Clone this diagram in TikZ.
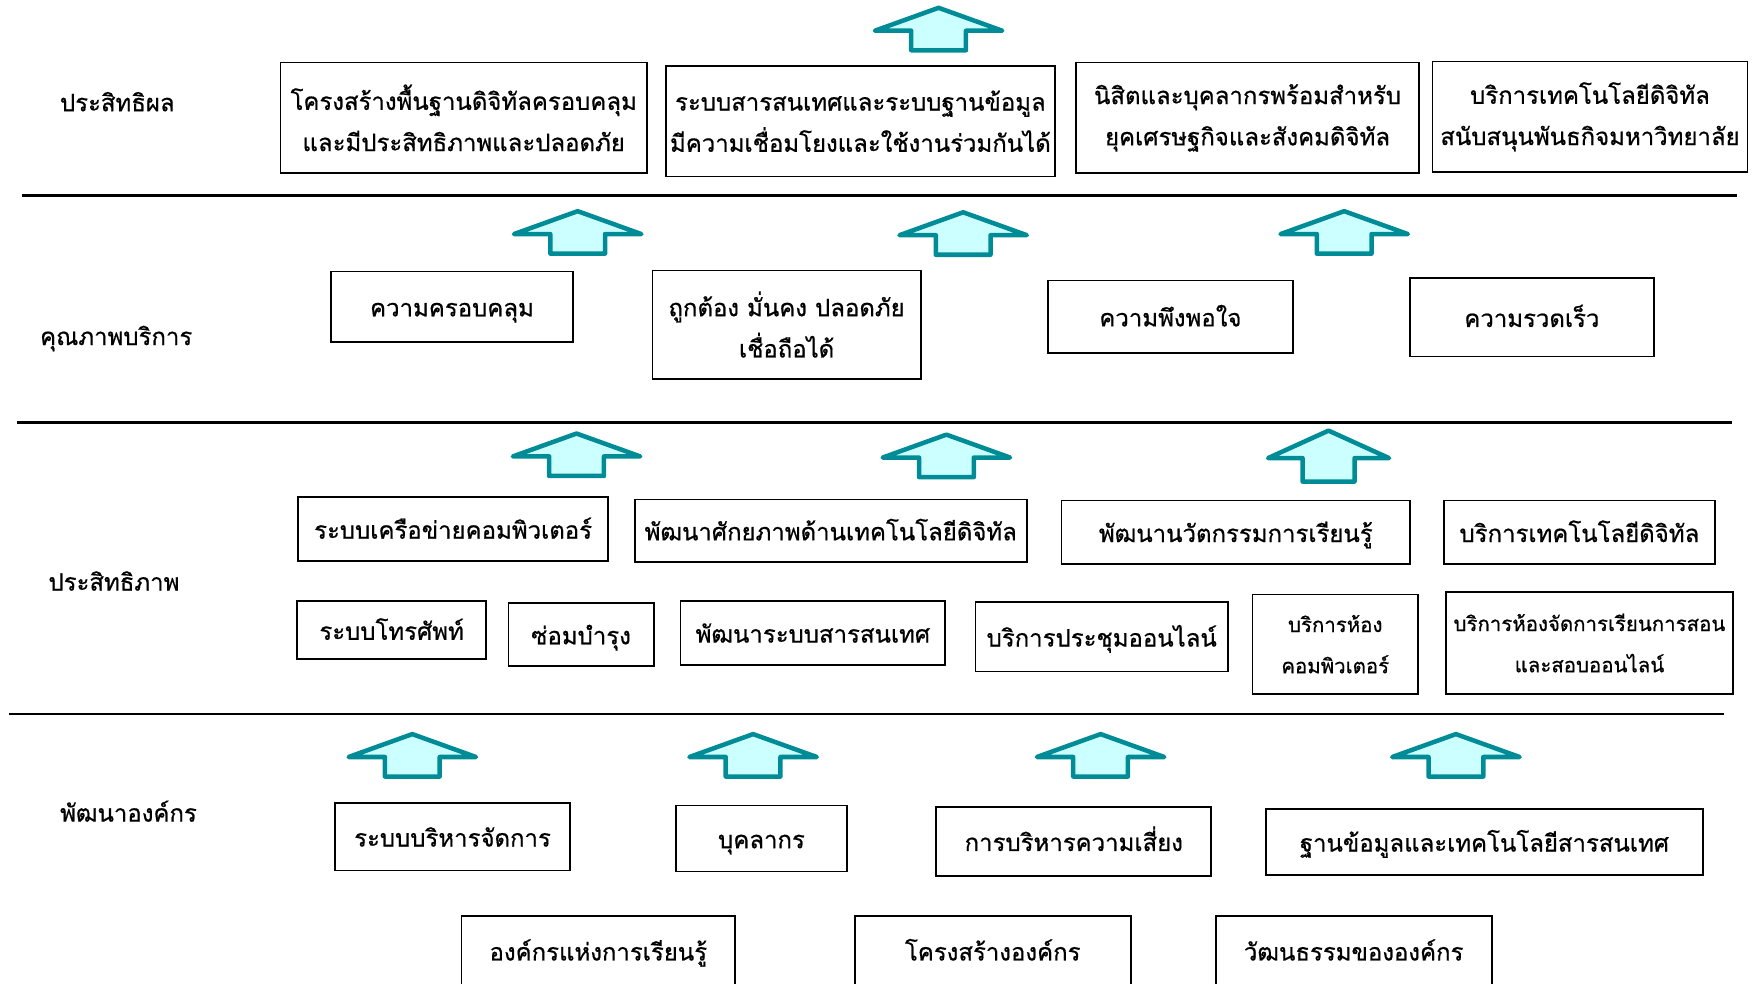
\documentclass[tikz,border=0pt]{standalone}
\usepackage{fontspec}
\setmainfont[Script=Thai, FakeBold=0.7]{Loma}
\usetikzlibrary{positioning}

\definecolor{arrowedge}{RGB}{0,140,150}
\definecolor{arrowfill}{RGB}{204,255,255}

\begin{document}
\begin{tikzpicture}[x=0.02cm, y=-0.02cm,
    twobox/.style={draw, line width=0.9pt, align=center, inner sep=1pt,
      font=\fontsize{12.2}{21}\selectfont},
    box/.style={twobox, text height=11pt, text depth=1.2pt},
    smallbox/.style={twobox, font=\fontsize{10.4}{21}\selectfont},
    level/.style={font=\fontsize{12.2}{21}\selectfont},
    rule/.style={line width=1.4pt},
    uparrow/.pic={%
      \draw[line width=2.3pt, line join=round, draw=arrowedge, fill=arrowfill]
        (0,2) -- (57,22.5) -- (24.5,22.5) -- (24.5,40) -- (-24.5,40) -- (-24.5,22.5) -- (-57,22.5) -- cycle;
    }
  ]
    \path[use as bounding box] (0,0) rectangle (1568,884);
    \clip (-10,-10) rectangle (1578,880.5);

    % levels
    \node[level] (effect)  at (105,91)  {ประสิทธิผล};
    \node[level] (quality) at (104,303) {คุณภาพบริการ};
    \node[level] (effic)   at (102,520) {ประสิทธิภาพ};
    \node[level] (org)     at (115,726) {พัฒนาองค์กร};

    \draw[rule] (20,175) -- (1555,175);
    \draw[rule] (15,378) -- (1550,378);
    \draw[rule] (8,639)  -- (1543,639);

    % arrows
    \foreach \x/\y in {840/5, 517/187, 862/188, 1203/187, 516/386, 847/387,
                       369/655, 674/655, 985/655, 1303/655}
      \pic at (\x,\y) {uparrow};
    \pic[xscale=0.95, yscale=1.2] at (1189,383) {uparrow};

    % effectiveness
    \node[twobox, minimum width=6.56cm, minimum height=1.98cm] (infra) at (415,105.5)
      {โครงสร้างพื้นฐานดิจิทัลครอบคลุม\\และมีประสิทธิภาพและปลอดภัย};
    \node[twobox, minimum width=6.96cm, minimum height=1.98cm] (infosys) at (770,108.5)
      {ระบบสารสนเทศและระบบฐานข้อมูล\\มีความเชื่อมโยงและใช้งานร่วมกันได้};
    \node[twobox, minimum width=6.14cm, minimum height=1.98cm] (people) at (1116.5,105.5)
      {นิสิตและบุคลากรพร้อมสำหรับ\\ยุคเศรษฐกิจและสังคมดิจิทัล};
    \node[twobox, minimum width=5.64cm, minimum height=1.98cm] (service) at (1423,104.5)
      {บริการเทคโนโลยีดิจิทัล\\สนับสนุนพันธกิจมหาวิทยาลัย};

    % service quality
    \node[box, minimum width=4.34cm, minimum height=1.26cm] (cover) at (404.5,274.5) {ความครอบคลุม};
    \node[twobox, minimum width=4.8cm, minimum height=1.94cm] (secure) at (704,290.5)
      {ถูกต้อง มั่นคง ปลอดภัย\\เชื่อถือได้};
    \node[box, minimum width=4.38cm, minimum height=1.3cm] (satisf) at (1047.5,283.5) {ความพึงพอใจ};
    \node[box, minimum width=4.36cm, minimum height=1.4cm] (speed) at (1371,284) {ความรวดเร็ว};

    % efficiency
    \node[box, minimum width=5.54cm, minimum height=1.14cm] (network) at (405.5,473.5) {ระบบเครือข่ายคอมพิวเตอร์};
    \node[box, minimum width=7.02cm, minimum height=1.12cm] (skill) at (743.5,475) {พัฒนาศักยภาพด้านเทคโนโลยีดิจิทัล};
    \node[box, minimum width=6.24cm, minimum height=1.14cm] (innov) at (1106,476.5) {พัฒนานวัตกรรมการเรียนรู้};
    \node[box, minimum width=4.86cm, minimum height=1.14cm] (digital) at (1413.5,476.5) {บริการเทคโนโลยีดิจิทัล};
    \node[box, minimum width=3.38cm, minimum height=1.04cm] (phone) at (350.5,564) {ระบบโทรศัพท์};
    \node[box, minimum width=2.6cm,  minimum height=1.12cm] (repair) at (520,568) {ซ่อมบำรุง};
    \node[box, minimum width=4.74cm, minimum height=1.14cm] (devsys) at (727.5,566.5) {พัฒนาระบบสารสนเทศ};
    \node[box, minimum width=4.52cm, minimum height=1.24cm] (meeting) at (986,570) {บริการประชุมออนไลน์};
    \node[smallbox, minimum width=2.96cm, minimum height=1.78cm] (lab) at (1195,576.5)
      {บริการห้อง\\คอมพิวเตอร์};
    \node[smallbox, minimum width=5.14cm, minimum height=1.82cm] (class) at (1422.5,575.5)
      {บริการห้องจัดการเรียนการสอน\\และสอบออนไลน์};

    % organisation
    \node[box, minimum width=4.2cm,  minimum height=1.2cm]  (manage) at (405,749) {ระบบบริหารจัดการ};
    \node[box, minimum width=3.06cm, minimum height=1.18cm] (staff) at (681.5,750.5) {บุคลากร};
    \node[box, minimum width=4.92cm, minimum height=1.24cm] (risk) at (961,753) {การบริหารความเสี่ยง};
    \node[box, minimum width=7.82cm, minimum height=1.18cm] (data) at (1328.5,753.5) {ฐานข้อมูลและเทคโนโลยีสารสนเทศ};
    \node[box, minimum width=4.9cm,  minimum height=1.24cm] (learn) at (535.5,851) {องค์กรแห่งการเรียนรู้};
    \node[box, minimum width=4.94cm, minimum height=1.24cm] (struct) at (888.5,851) {โครงสร้างองค์กร};
    \node[box, minimum width=4.94cm, minimum height=1.24cm] (culture) at (1211.5,851) {วัฒนธรรมขององค์กร};
\end{tikzpicture}
\end{document}
